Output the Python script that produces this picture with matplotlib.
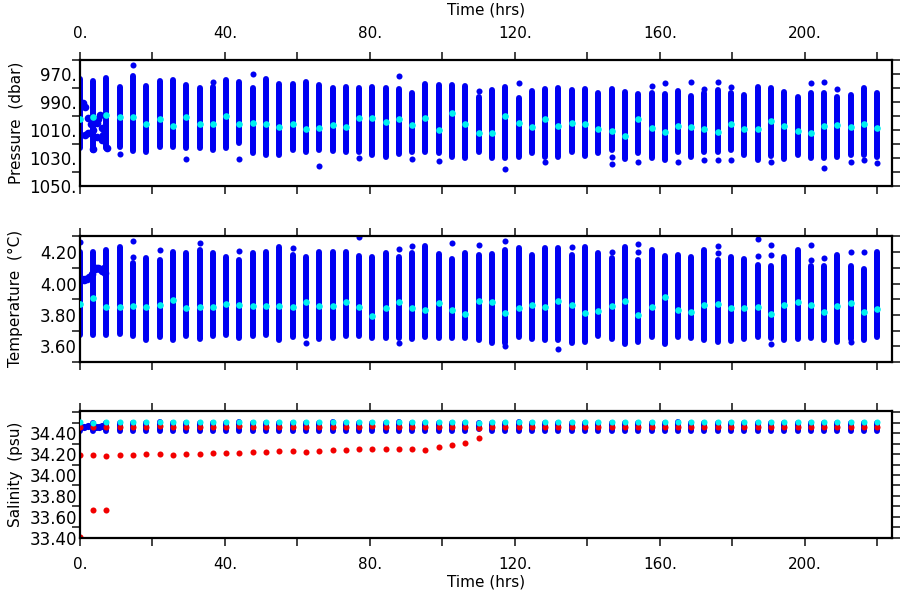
import numpy as np
import matplotlib
matplotlib.use("Agg")
import matplotlib.pyplot as plt
from matplotlib.ticker import MultipleLocator, FixedLocator, FuncFormatter

# profile times (hrs)
times = [0.0, 3.7, 7.3, 11.0, 14.7, 18.3, 22.0, 25.7, 29.3, 33.0, 36.7, 40.3, 44.0,
         47.7, 51.3, 55.0, 58.7, 62.3, 66.0, 69.7, 73.3, 77.0, 80.7, 84.3, 88.0,
         91.7, 95.3, 99.0, 102.7, 106.3, 110.0, 113.7, 117.3, 121.0, 124.7, 128.3,
         132.0, 135.7, 139.3, 143.0, 146.7, 150.3, 154.0, 157.7, 161.3, 165.0,
         168.7, 172.3, 176.0, 179.7, 183.3, 187.0, 190.7, 194.3, 198.0, 201.7,
         205.3, 209.0, 212.7, 216.3, 220.0]

# pressure (dbar): shallowest, deepest, mean of each profile
pres_top = [973.6, 974.8, 973.0, 979.5, 971.4, 978.3, 974.8, 974.3, 977.9, 980.2, 979.5,
            974.3, 976.0, 980.0, 973.6, 977.0, 977.0, 975.5, 977.9, 980.2, 979.0, 980.2,
            979.0, 980.2, 981.0, 983.3, 977.4, 977.9, 977.9, 978.6, 986.6, 981.4, 979.0,
            987.4, 981.9, 981.0, 980.2, 981.4, 981.0, 983.3, 981.0, 982.6, 984.5, 983.3,
            984.5, 981.9, 985.7, 983.8, 981.4, 983.8, 985.0, 979.5, 980.2, 982.6, 986.6,
            983.3, 983.3, 986.2, 985.0, 979.8, 983.8]
pres_bot = [1023.0, 1024.0, 1023.0, 1022.0, 1024.8, 1025.5, 1022.0, 1022.0, 1023.0, 1023.0,
            1024.0, 1023.0, 1019.5, 1026.7, 1027.9, 1028.0, 1024.3, 1025.5, 1024.3, 1024.8,
            1025.5, 1025.5, 1027.9, 1029.0, 1027.0, 1025.5, 1025.5, 1026.7, 1029.5, 1030.2,
            1025.5, 1030.2, 1030.2, 1029.5, 1026.7, 1029.5, 1029.5, 1025.5, 1028.6, 1026.7,
            1024.3, 1031.0, 1026.7, 1030.2, 1031.4, 1025.5, 1029.5, 1025.5, 1025.5, 1024.3,
            1027.9, 1031.4, 1028.6, 1031.0, 1027.9, 1030.2, 1030.2, 1029.0, 1027.9, 1027.9,
            1029.0]
pres_mean = [1002.0, 1001.0, 999.0, 1001.0, 1000.5, 1006.0, 1002.4, 1007.4, 1001.0, 1005.5,
             1005.5, 1000.2, 1005.5, 1005.0, 1006.0, 1007.6, 1005.8, 1009.3, 1008.8, 1006.4,
             1007.6, 1001.7, 1001.7, 1004.5, 1002.1, 1006.4, 1001.7, 1010.0, 998.1, 1005.7,
             1011.9, 1012.4, 1000.0, 1005.2, 1007.6, 1002.4, 1007.1, 1004.8, 1005.7, 1009.5,
             1010.5, 1014.3, 1002.4, 1008.3, 1011.2, 1007.1, 1007.6, 1009.3, 1011.7, 1005.7,
             1009.5, 1009.5, 1003.6, 1007.1, 1010.5, 1011.9, 1006.9, 1006.4, 1007.6, 1005.9,
             1008.3]
pres_out_t = [11.0, 14.7, 29.3, 36.7, 44.0, 47.7, 66.0, 77.0, 88.0, 91.7, 99.0, 110.0,
              117.3, 121.0, 128.3, 146.7, 146.7, 154.0, 157.7, 161.3, 165.0, 168.7, 172.3,
              172.3, 176.0, 176.0, 179.7, 179.7, 190.7, 201.7, 205.3, 205.3, 209.0, 212.7,
              216.3, 220.0]
pres_out_v = [1027.0, 963.8, 1030.7, 975.7, 1031.0, 970.0, 1035.5, 1030.2, 971.2, 1031.0,
              1032.0, 981.9, 1037.9, 976.7, 1032.6, 1029.5, 1034.5, 1032.6, 978.3, 976.7,
              1032.6, 975.5, 980.7, 1031.4, 976.0, 1031.4, 979.5, 1031.4, 1033.0, 976.7,
              976.0, 1037.4, 981.0, 1032.6, 1031.4, 1033.8]
pres_early_t = [0.8, 1.4, 2.3, 2.3, 1.4, 3.7, 4.6, 4.6, 5.5, 6.0, 6.0, 6.4, 3.7, 7.4, 3.0, 5.0]
pres_early_v = [991.0, 993.4, 1001.7, 1012.4, 1013.6, 1010.0, 1005.0, 1014.8, 999.3,
                1008.8, 1017.0, 1013.6, 1023.8, 1023.0, 1006.0, 1002.0]

# temperature (degC)
temp_top = [4.20, 4.20, 4.215, 4.232, 4.13, 4.162, 4.151, 4.20, 4.194, 4.215, 4.194, 4.172,
            4.151, 4.194, 4.20, 4.236, 4.183, 4.172, 4.204, 4.204, 4.204, 4.177, 4.172,
            4.194, 4.168, 4.194, 4.242, 4.189, 4.155, 4.194, 4.183, 4.187, 4.215, 4.225,
            4.183, 4.225, 4.225, 4.183, 4.23, 4.194, 4.162, 4.236, 4.151, 4.211, 4.177,
            4.183, 4.172, 4.215, 4.151, 4.168, 4.155, 4.119, 4.113, 4.172, 4.211, 4.109,
            4.109, 4.183, 4.109, 4.092, 4.198]
temp_bot = [3.674, 3.674, 3.674, 3.678, 3.664, 3.642, 3.657, 3.638, 3.664, 3.647, 3.664,
            3.674, 3.653, 3.668, 3.674, 3.642, 3.662, 3.667, 3.646, 3.656, 3.663, 3.663,
            3.652, 3.652, 3.652, 3.646, 3.659, 3.652, 3.652, 3.652, 3.642, 3.62, 3.62,
            3.659, 3.646, 3.642, 3.642, 3.62, 3.625, 3.663, 3.646, 3.616, 3.625, 3.659,
            3.616, 3.659, 3.652, 3.637, 3.625, 3.631, 3.646, 3.659, 3.652, 3.642, 3.646,
            3.652, 3.642, 3.625, 3.646, 3.637, 3.659]
temp_mean = [3.87, 3.905, 3.848, 3.848, 3.854, 3.848, 3.865, 3.897, 3.844, 3.85, 3.85,
             3.871, 3.865, 3.859, 3.854, 3.859, 3.852, 3.882, 3.858, 3.854, 3.882, 3.85,
             3.79, 3.843, 3.882, 3.843, 3.833, 3.875, 3.833, 3.807, 3.89, 3.884, 3.811,
             3.843, 3.865, 3.85, 3.886, 3.865, 3.811, 3.828, 3.858, 3.886, 3.797, 3.85,
             3.913, 3.833, 3.816, 3.86, 3.869, 3.843, 3.843, 3.85, 3.807, 3.86, 3.884,
             3.86, 3.818, 3.858, 3.879, 3.818, 3.837]
temp_out_t = [0.0, 14.7, 14.7, 22.0, 33.0, 44.0, 58.7, 62.3, 77.0, 88.0, 88.0, 91.7, 102.7,
              110.0, 117.3, 117.3, 132.0, 135.7, 146.7, 154.0, 154.0, 176.0, 176.0, 187.0,
              187.0, 190.7, 190.7, 190.7, 201.7, 201.7, 205.3, 212.7, 212.7, 216.3]
temp_out_v = [4.264, 4.274, 4.168, 4.215, 4.257, 4.208, 4.228, 3.62, 4.296, 4.219, 3.62,
              4.24, 4.257, 4.247, 4.268, 3.60, 3.582, 4.236, 4.204, 4.253, 4.198, 4.242,
              4.194, 4.283, 4.177, 4.247, 4.183, 3.616, 4.247, 4.151, 4.162, 4.204, 3.625,
              4.198]
temp_early_t = [0.5, 1.0, 1.5, 2.0, 2.6, 3.2, 4.0, 4.5, 5.0, 5.5, 6.0, 6.5, 7.0]
temp_early_v = [4.03, 4.02, 4.03, 4.03, 4.04, 4.06, 4.09, 4.10, 4.10, 4.09, 4.08, 4.10, 4.07]

# salinity (psu)
sal_blue_lo = [34.425, 34.425, 34.425, 34.42, 34.425, 34.42, 34.425, 34.42, 34.425, 34.425,
               34.42, 34.425, 34.425, 34.42, 34.425, 34.425, 34.425, 34.42, 34.425, 34.425,
               34.42, 34.425, 34.425, 34.42, 34.425, 34.425, 34.42, 34.425, 34.425, 34.425,
               34.44, 34.425, 34.425, 34.42, 34.425, 34.425, 34.425, 34.42, 34.425, 34.425,
               34.42, 34.425, 34.425, 34.425, 34.42, 34.425, 34.425, 34.425, 34.425, 34.42,
               34.425, 34.425, 34.425, 34.42, 34.425, 34.425, 34.425, 34.42, 34.425, 34.425,
               34.425]
sal_blue_hi = [34.50, 34.50, 34.50, 34.50, 34.50, 34.50, 34.51, 34.50, 34.50, 34.50, 34.50,
               34.50, 34.51, 34.50, 34.50, 34.50, 34.50, 34.50, 34.50, 34.51, 34.50, 34.50,
               34.50, 34.50, 34.51, 34.50, 34.50, 34.50, 34.50, 34.50, 34.50, 34.50, 34.50,
               34.51, 34.50, 34.50, 34.50, 34.50, 34.50, 34.50, 34.50, 34.50, 34.50, 34.50,
               34.50, 34.51, 34.50, 34.50, 34.50, 34.50, 34.50, 34.50, 34.50, 34.50, 34.50,
               34.50, 34.50, 34.50, 34.50, 34.50, 34.50]
sal_red = [34.46, 34.46, 34.46, 34.455, 34.46, 34.46, 34.465, 34.455, 34.46, 34.46, 34.46,
           34.455, 34.465, 34.46, 34.46, 34.455, 34.46, 34.46, 34.455, 34.46, 34.46, 34.46,
           34.465, 34.46, 34.46, 34.455, 34.46, 34.46, 34.46, 34.46, 34.45, 34.46, 34.46,
           34.46, 34.455, 34.46, 34.46, 34.46, 34.455, 34.46, 34.46, 34.46, 34.46, 34.455,
           34.46, 34.46, 34.46, 34.46, 34.455, 34.46, 34.46, 34.46, 34.46, 34.46, 34.455,
           34.46, 34.46, 34.46, 34.46, 34.455, 34.46]
sal_cyan = [34.505, 34.50, 34.505, 34.505, 34.505, 34.505, 34.51, 34.505, 34.505, 34.505,
            34.505, 34.505, 34.51, 34.505, 34.505, 34.505, 34.505, 34.505, 34.505, 34.51,
            34.505, 34.505, 34.51, 34.505, 34.505, 34.505, 34.505, 34.51, 34.505, 34.505,
            34.50, 34.505, 34.505, 34.51, 34.505, 34.505, 34.505, 34.505, 34.505, 34.505,
            34.505, 34.505, 34.505, 34.505, 34.505, 34.51, 34.505, 34.505, 34.505, 34.505,
            34.505, 34.505, 34.505, 34.505, 34.505, 34.505, 34.505, 34.505, 34.505, 34.505,
            34.505]
sal_low_red = [34.19, 34.19, 34.18, 34.19, 34.19, 34.20, 34.20, 34.19, 34.20, 34.20, 34.21,
               34.215, 34.215, 34.22, 34.22, 34.23, 34.23, 34.225, 34.23, 34.24, 34.24,
               34.245, 34.245, 34.25, 34.25, 34.25, 34.24, 34.265, 34.29, 34.31, 34.355]
sal_extra_red_t = [0.0, 3.7, 7.3]
sal_extra_red_v = [33.41, 33.665, 33.665]
sal_early_t = [1.2, 2.2, 4.5, 5.3, 6.2]
sal_early_v = [34.46, 34.465, 34.46, 34.46, 34.465]

pres_labels = [970, 990, 1010, 1030, 1050]
temp_labels = [3.6, 3.8, 4.0, 4.2]
sal_labels = [33.4, 33.6, 33.8, 34.0, 34.2, 34.4]

BLUE = "#0000f2"
CYAN = "#00f0f0"
RED = "#f20000"
LW = 4.3
MS = 19

plt.rcParams["font.family"] = "DejaVu Sans"
plt.rcParams["font.size"] = 11

fig = plt.figure(figsize=(9, 6), dpi=100)
ax1 = fig.add_axes([0.0889, 0.69, 0.902, 0.21])
ax2 = fig.add_axes([0.0889, 0.3967, 0.902, 0.2105])
ax3 = fig.add_axes([0.0889, 0.1038, 0.902, 0.2107])

t = np.array(times)

# pressure
ax1.vlines(t, pres_top, pres_bot, colors=BLUE, linewidth=LW, capstyle="round")
ax1.scatter(pres_out_t, pres_out_v, s=MS, color=BLUE, lw=0)
ax1.scatter(pres_early_t, pres_early_v, s=MS * 1.6, color=BLUE, lw=0)
ax1.scatter(t, pres_mean, s=MS * 1.2, color=CYAN, lw=0, zorder=3)
ax1.set_ylim(1050, 960)
ax1.yaxis.set_major_locator(FixedLocator(pres_labels))
ax1.yaxis.set_major_formatter(FuncFormatter(lambda v, p: "%d." % round(v)))
ax1.yaxis.set_minor_locator(MultipleLocator(10))
ax1.set_ylabel("Pressure  (dbar)")

# temperature
ax2.vlines(t, temp_bot, temp_top, colors=BLUE, linewidth=LW, capstyle="round")
ax2.scatter(temp_out_t, temp_out_v, s=MS, color=BLUE, lw=0)
ax2.scatter(temp_early_t, temp_early_v, s=MS * 1.6, color=BLUE, lw=0)
ax2.scatter(t, temp_mean, s=MS * 1.2, color=CYAN, lw=0, zorder=3)
ax2.set_ylim(3.5, 4.305)
ax2.yaxis.set_major_locator(FixedLocator(temp_labels))
ax2.yaxis.set_major_formatter(FuncFormatter(lambda v, p: "%.2f" % v))
ax2.yaxis.set_minor_locator(MultipleLocator(0.1))
ax2.set_ylabel("Temperature  (\u00b0C)")

# salinity
ax3.vlines(t, sal_blue_lo, sal_blue_hi, colors=BLUE, linewidth=LW, capstyle="round")
ax3.scatter(sal_early_t, sal_early_v, s=MS * 1.4, color=BLUE, lw=0)
ax3.scatter(t, sal_red, s=MS, color=RED, lw=0, zorder=3)
ax3.scatter(t, sal_cyan, s=MS, color=CYAN, lw=0, zorder=4)
ax3.scatter(t[:len(sal_low_red)], sal_low_red, s=MS, color=RED, lw=0)
ax3.scatter(sal_extra_red_t, sal_extra_red_v, s=MS, color=RED, lw=0)
ax3.set_ylim(33.4, 34.61)
ax3.yaxis.set_major_locator(FixedLocator(sal_labels))
ax3.yaxis.set_major_formatter(FuncFormatter(lambda v, p: "%.2f" % v))
ax3.yaxis.set_minor_locator(MultipleLocator(0.1))
ax3.set_ylabel("Salinity  (psu)")

for ax in (ax1, ax2, ax3):
    ax.set_xlim(0, 224)
    ax.xaxis.set_major_locator(MultipleLocator(40))
    ax.xaxis.set_minor_locator(MultipleLocator(20))
    ax.xaxis.set_major_formatter(FuncFormatter(lambda v, p: "%d." % round(v)))
    ax.tick_params(which="both", direction="out", length=6, width=1.3, color="#333333",
                   top=True, right=True, labelbottom=False, labeltop=False,
                   labelsize=11)
    ax.tick_params(axis="x", which="both", pad=8)
    # labelled y positions: label sits against the spine, tick hidden on the left
    ax.tick_params(axis="y", which="major", left=False, pad=-3.8, labelsize=12)
    for sp in ax.spines.values():
        sp.set_linewidth(1.6)
    ax.yaxis.set_label_coords(-0.07, 0.5)

ax1.tick_params(labeltop=True)
ax1.xaxis.set_label_position("top")
ax1.set_xlabel("Time (hrs)", labelpad=8)
ax3.tick_params(labelbottom=True)
ax3.set_xlabel("Time (hrs)", labelpad=2)

fig.savefig("out.png", dpi=100, facecolor="white")
